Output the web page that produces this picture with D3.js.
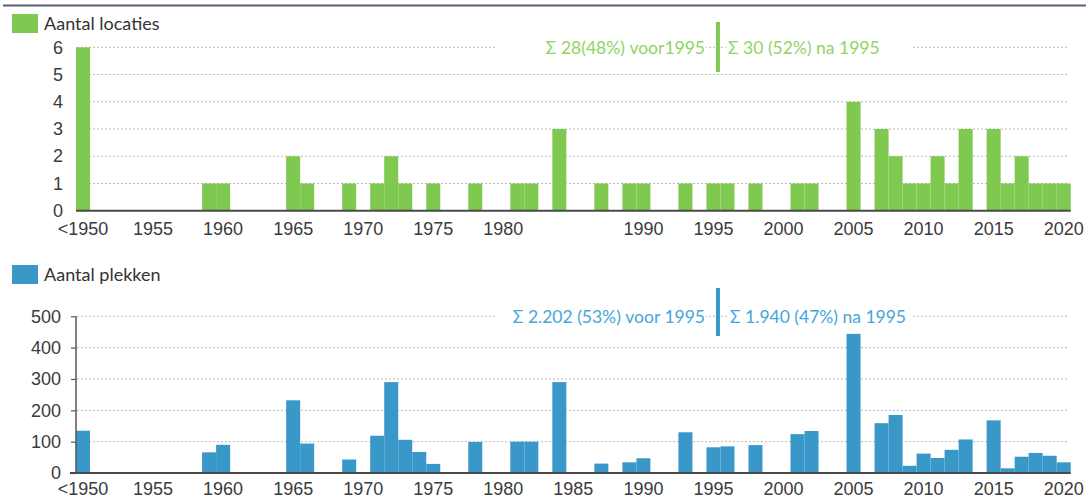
<!DOCTYPE html>
<html>
<head>
<meta charset="utf-8">
<script src="https://cdn.jsdelivr.net/npm/d3@7"></script>
<style>
  body { margin: 0; background: #fff; }
  svg { font-family: Lato, "Open Sans", sans-serif; }
  .tick text { fill: #3b3b3b; font-size: 18px; }
  .grid line { stroke: #b9b9b9; stroke-dasharray: 2,2; }
</style>
</head>
<body>
<script>
// data
var years = [1950, 1959, 1960, 1965, 1966, 1969, 1971, 1972, 1973, 1974, 1975,
  1978, 1981, 1982, 1984, 1987, 1989, 1990, 1993, 1995, 1996, 1998, 2001, 2002,
  2005, 2007, 2008, 2009, 2010, 2011, 2012, 2013, 2015, 2016, 2017, 2018, 2019, 2020];
var locaties = [6, 1, 1, 2, 1, 1, 1, 2, 1, 0, 1,
  1, 1, 1, 3, 1, 1, 1, 1, 1, 1, 1, 1, 1,
  4, 3, 2, 1, 1, 2, 1, 3, 3, 1, 2, 1, 1, 1];
var plekken = [135, 66, 90, 232, 94, 43, 119, 290, 106, 67, 29,
  99, 100, 100, 290, 30, 34, 47, 130, 82, 85, 89, 124, 134,
  444, 159, 185, 23, 62, 48, 74, 107, 168, 15, 52, 64, 55, 34];
var tickYearsTop = [1950, 1955, 1960, 1965, 1970, 1975, 1980, 1990, 1995, 2000, 2005, 2010, 2015, 2020];
var tickYearsBottom = [1950, 1955, 1960, 1965, 1970, 1975, 1980, 1985, 1990, 1995, 2000, 2005, 2010, 2015, 2020];
var ticksTop = [0, 1, 2, 3, 4, 5, 6];
var ticksBottom = [0, 100, 200, 300, 400, 500];

var green = "#7fc951", greenText = "#8fd463";
var blue = "#3a98c9", blueText = "#45a6d8";

var svg = d3.select("body").append("svg")
  .attr("width", 1086)
  .attr("height", 498);

// top rule
svg.append("line")
  .attr("x1", 3).attr("x2", 1086)
  .attr("y1", 5.5).attr("y2", 5.5)
  .attr("stroke", "#5b5b78")
  .attr("stroke-width", 2);

var x = d3.scaleBand()
  .domain(d3.range(1950, 2021))
  .range([76, 1070.7])
  .padding(0);

function yearLabel(d) { return d == 1950 ? "<1950" : d; }

function drawPanel(opt) {
  var y = d3.scaleLinear().domain(opt.domain).range(opt.range);
  var g = svg.append("g");
  var rows = years.map(function(yr, i) { return {year: yr, value: opt.values[i]}; });

  // legend
  g.append("rect")
    .attr("x", 12).attr("y", opt.legendY)
    .attr("width", 26).attr("height", 19)
    .attr("fill", opt.color);
  g.append("text")
    .attr("x", 44).attr("y", opt.legendY + 16)
    .attr("font-size", 18)
    .attr("fill", "#333")
    .text(opt.label);

  // gridlines
  g.append("g")
    .attr("class", "grid")
    .selectAll("line")
    .data(opt.ticks.slice(1))
    .enter().append("line")
    .attr("x1", 77).attr("x2", 1068)
    .attr("y1", function(d) { return y(d); })
    .attr("y2", function(d) { return y(d); });

  // y axis
  var yAxis = g.append("g")
    .attr("transform", "translate(" + opt.axisX + ",0)")
    .call(d3.axisLeft(y).tickValues(opt.ticks).tickFormat(d3.format("d"))
      .tickSize(opt.tickSize).tickPadding(opt.tickPad));
  yAxis.select(".domain").remove();
  yAxis.selectAll(".tick line").attr("stroke", "#555").attr("stroke-width", 1.2);

  // bars
  g.selectAll(".bar")
    .data(rows.filter(function(d) { return d.value > 0; }))
    .enter().append("rect")
    .attr("class", "bar")
    .attr("x", function(d) { return x(d.year); })
    .attr("width", x.bandwidth())
    .attr("y", function(d) { return y(d.value); })
    .attr("height", function(d) { return y(0) - y(d.value); })
    .attr("fill", opt.color);

  if (opt.vline) {
    g.append("line")
      .attr("x1", 76).attr("x2", 76)
      .attr("y1", y(opt.domain[1])).attr("y2", y(0))
      .attr("stroke", "#555").attr("stroke-width", 1.5);
  }

  // baseline
  g.append("line")
    .attr("x1", opt.baseX).attr("x2", 1070.7)
    .attr("y1", y(0)).attr("y2", y(0))
    .attr("stroke", "#4a4a4a")
    .attr("stroke-width", 2);

  // x axis labels
  var xAxis = g.append("g")
    .attr("transform", "translate(0," + y(0) + ")")
    .call(d3.axisBottom(x).tickValues(opt.xticks).tickFormat(yearLabel).tickSize(0).tickPadding(opt.xPad));
  xAxis.select(".domain").remove();

  // annotation
  var ann = g.append("g");
  var top = y(opt.domain[1]);
  var left = ann.append("text")
    .attr("x", 705).attr("y", top + 6.5)
    .attr("text-anchor", "end")
    .attr("font-size", 17.5)
    .attr("fill", opt.textColor)
    .text(opt.before);
  var right = ann.append("text")
    .attr("x", opt.rightX).attr("y", top + 6.5)
    .attr("text-anchor", "start")
    .attr("font-size", 17.5)
    .attr("fill", opt.textColor)
    .text(opt.after);
  var lb = left.node().getBBox(), rb = right.node().getBBox();
  ann.insert("rect", "text")
    .attr("x", 497).attr("y", top - 8)
    .attr("width", lb.x + lb.width + 1 - 497).attr("height", 20)
    .attr("fill", "#fff");
  ann.insert("rect", "text")
    .attr("x", rb.x - 2).attr("y", top - 8)
    .attr("width", 913 - rb.x + 2).attr("height", 20)
    .attr("fill", "#fff");
  ann.append("rect")
    .attr("x", x(1996) - 4.5).attr("y", opt.barY[0])
    .attr("width", 4).attr("height", opt.barY[1] - opt.barY[0])
    .attr("fill", opt.color);
}

drawPanel({
  values: locaties, domain: [0, 6], range: [210.7, 47.3], ticks: ticksTop,
  color: green, textColor: greenText, label: "Aantal locaties", legendY: 14,
  xticks: tickYearsTop, axisX: 63, tickSize: 0, tickPad: 0, vline: false, baseX: 76, xPad: 12,
  before: "\u03a3 28(48%) voor1995", after: "\u03a3 30 (52%) na 1995", rightX: 728,
  barY: [22, 72]
});

drawPanel({
  values: plekken, domain: [0, 500], range: [473, 316.3], ticks: ticksBottom,
  color: blue, textColor: blueText, label: "Aantal plekken", legendY: 265,
  xticks: tickYearsBottom, axisX: 76, tickSize: 5, tickPad: 10, vline: true, baseX: 70, xPad: 9,
  before: "\u03a3 2.202 (53%) voor 1995", after: "\u03a3 1.940 (47%) na 1995", rightX: 730,
  barY: [288, 336]
});
</script>
</body>
</html>
